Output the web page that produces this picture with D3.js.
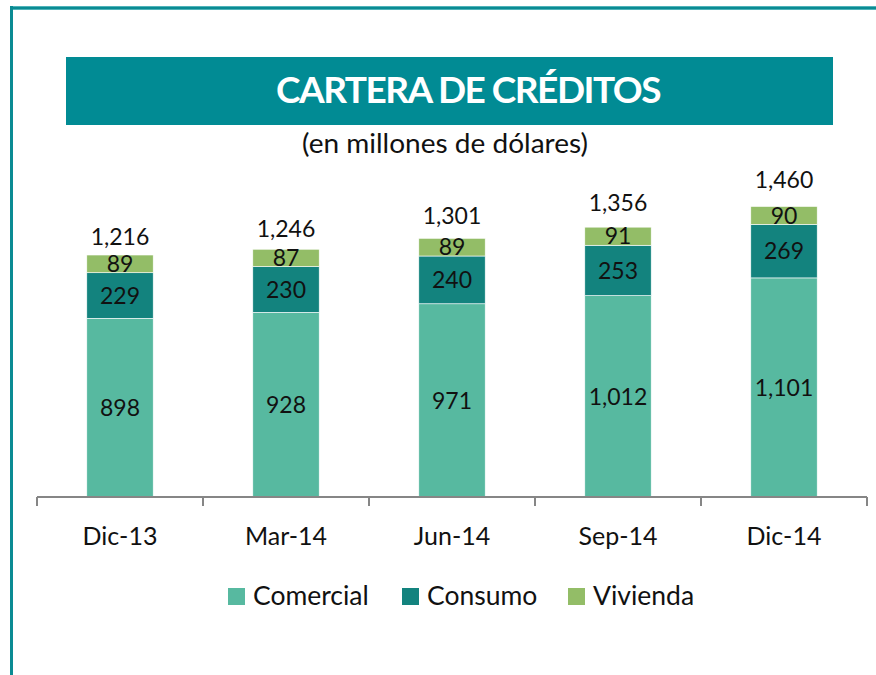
<!DOCTYPE html>
<html>
<head>
<meta charset="utf-8">
<script src="https://cdn.jsdelivr.net/npm/d3@7"></script>
<style>
  body { margin: 0; background: #fff; }
  svg { display: block; font-family: Lato, "Open Sans", sans-serif; }
</style>
</head>
<body>
<div id="chart"></div>
<script>
const categories = ["Dic-13", "Mar-14", "Jun-14", "Sep-14", "Dic-14"];
const comercial = [898, 928, 971, 1012, 1101];
const consumo = [229, 230, 240, 253, 269];
const vivienda = [89, 87, 89, 91, 90];
const totals = [1216, 1246, 1301, 1356, 1460];
const seriesNames = ["Comercial", "Consumo", "Vivienda"];
const colors = ["#57b9a0", "#13837e", "#93bd67"];

const W = 876, H = 675;
const svg = d3.select("#chart").append("svg")
  .attr("width", W)
  .attr("height", H);

// frame
svg.append("rect").attr("x", 10).attr("y", 6).attr("width", W - 10).attr("height", 4).attr("fill", "#4fb3b9");
svg.append("rect").attr("x", 10).attr("y", 7).attr("width", W - 10).attr("height", 2).attr("fill", "#0b8b93");
svg.append("rect").attr("x", 10).attr("y", 6).attr("width", 3).attr("height", H).attr("fill", "#0b8b93");

// title banner
svg.append("rect")
  .attr("x", 66).attr("y", 57)
  .attr("width", 767).attr("height", 68)
  .attr("fill", "#018b94");
svg.append("text")
  .attr("x", 468).attr("y", 103)
  .attr("text-anchor", "middle")
  .attr("fill", "#fff")
  .style("font-size", "37px")
  .style("font-weight", "bold")
  .style("letter-spacing", "-1.5px")
  .text("CARTERA DE CRÉDITOS");
svg.append("text")
  .attr("x", 302).attr("y", 153)
  .attr("textLength", 286)
  .attr("lengthAdjust", "spacingAndGlyphs")
  .attr("fill", "#111")
  .style("font-size", "26px")
  .text("(en millones de dólares)");

// scales
const x = d3.scaleBand()
  .domain(categories)
  .range([37, 867])
  .paddingInner(0.6)
  .paddingOuter(0.3);

const y = d3.scaleLinear()
  .domain([0, 1600])
  .range([497, 497 - 0.199 * 1600]);

const table = categories.map((c, i) => ({
  cat: c, Comercial: comercial[i], Consumo: consumo[i], Vivienda: vivienda[i], total: totals[i]
}));
const stacked = d3.stack().keys(seriesNames)(table);

const g = svg.append("g");
const layers = g.selectAll("g.layer")
  .data(stacked)
  .enter().append("g")
  .attr("class", "layer")
  .attr("fill", (d, i) => colors[i]);

layers.selectAll("rect")
  .data(d => d)
  .enter().append("rect")
  .attr("x", d => x(d.data.cat))
  .attr("width", x.bandwidth())
  .attr("y", d => y(d[1]))
  .attr("height", d => y(d[0]) - y(d[1]))
  .attr("stroke", "#fff")
  .attr("stroke-width", 0.6);

layers.selectAll("text")
  .data(d => d.map(v => Object.assign({ key: d.key }, v)))
  .enter().append("text")
  .attr("x", d => x(d.data.cat) + x.bandwidth() / 2)
  .attr("y", d => (y(d[0]) + y(d[1])) / 2)
  .attr("dy", "0.36em")
  .attr("text-anchor", "middle")
  .attr("fill", "#111")
  .style("font-size", "23px")
  .text(d => d3.format(",")(d.data[d.key]));

// total labels sit a little higher over the later bars
g.selectAll("text.total")
  .data(table)
  .enter().append("text")
  .attr("class", "total")
  .attr("x", d => x(d.cat) + x.bandwidth() / 2)
  .attr("y", (d, i) => y(d.total) - 10 - 2.2 * i)
  .attr("text-anchor", "middle")
  .attr("fill", "#111")
  .style("font-size", "23px")
  .text(d => d3.format(",")(d.total));

// axis
const axisG = svg.append("g").attr("transform", "translate(0,497)");
axisG.append("line")
  .attr("x1", 37).attr("x2", 867)
  .attr("stroke", "#868686").attr("stroke-width", 2);
const step = x.step();
axisG.selectAll("line.tick")
  .data(d3.range(categories.length + 1))
  .enter().append("line")
  .attr("class", "tick")
  .attr("x1", i => 37 + i * step).attr("x2", i => 37 + i * step)
  .attr("y1", 0).attr("y2", 9)
  .attr("stroke", "#868686").attr("stroke-width", 2);
axisG.selectAll("text")
  .data(categories)
  .enter().append("text")
  .attr("x", d => x(d) + x.bandwidth() / 2)
  .attr("y", 48)
  .attr("text-anchor", "middle")
  .attr("fill", "#111")
  .style("font-size", "25px")
  .text(d => d);

// legend
const legendX = [228, 402, 568];
const legend = svg.selectAll("g.legend")
  .data(seriesNames)
  .enter().append("g")
  .attr("class", "legend")
  .attr("transform", (d, i) => "translate(" + legendX[i] + ",588)");
legend.append("rect")
  .attr("width", 17).attr("height", 17)
  .attr("fill", (d, i) => colors[i]);
legend.append("text")
  .attr("x", 25).attr("y", 17)
  .attr("fill", "#111")
  .style("font-size", "26.5px")
  .text(d => d);
</script>
</body>
</html>
